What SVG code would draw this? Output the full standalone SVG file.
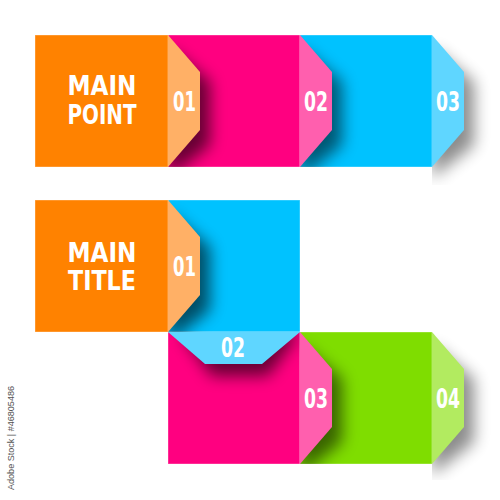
<svg xmlns="http://www.w3.org/2000/svg" width="500" height="500" viewBox="0 0 500 500">
<style>
.lbl{font-family:"DejaVu Sans Condensed","Liberation Sans Narrow","Liberation Sans",Arial,sans-serif;font-weight:bold;fill:#fff;text-anchor:middle;}
.big{font-size:26px;}
.num{font-size:26px;}
.sh{fill:#000;filter:url(#blur);}
.edge{stroke:#fff;stroke-opacity:0.35;stroke-width:1;}
</style>
<defs>
<filter id="blur" x="-50%" y="-50%" width="200%" height="200%"><feGaussianBlur stdDeviation="8"/></filter>
<clipPath id="cPink1"><rect x="168" y="35" width="132" height="132"/></clipPath>
<clipPath id="cBlue1"><rect x="300" y="35" width="132" height="132"/></clipPath>
<clipPath id="cRight1"><rect x="432" y="35" width="68" height="150"/></clipPath>
<clipPath id="cBlue2"><rect x="168" y="200" width="132" height="132"/></clipPath>
<clipPath id="cPink2"><rect x="168" y="332" width="132" height="132"/></clipPath>
<clipPath id="cGreen2"><rect x="300" y="332" width="132" height="132"/></clipPath>
<clipPath id="cRight2"><rect x="432" y="320" width="68" height="160"/></clipPath>
</defs>
<rect width="500" height="500" fill="#fff"/>

<g id="row1">
  <rect class="edge" x="168" y="35" width="132" height="132" fill="#FF0080"/>
  <rect class="edge" x="300" y="35" width="132" height="132" fill="#00C2FF"/>
  <rect class="edge" x="35" y="35" width="133" height="132" fill="#FF8200"/>
  <g clip-path="url(#cPink1)"><polygon class="sh" opacity="0.6" points="168,48 210,82 210,145 168,178"/></g>
  <g clip-path="url(#cBlue1)"><polygon class="sh" opacity="0.55" points="300,48 342,82 342,145 300,178"/></g>
  <g clip-path="url(#cRight1)"><polygon class="sh" opacity="0.45" points="432,48 474,82 474,145 432,178"/></g>
</g>

<g id="node-main-point">
  <text class="lbl big" x="102" y="95" textLength="69" lengthAdjust="spacingAndGlyphs">MAIN</text>
  <text class="lbl big" x="102" y="124" textLength="69" lengthAdjust="spacingAndGlyphs">POINT</text>
</g>
<g id="node-tab-01a">
  <polygon points="168,35 200,72 200,130 168,167" fill="#FFB066"/>
  <text class="lbl num" x="184.5" y="111" textLength="23" lengthAdjust="spacingAndGlyphs">01</text>
</g>
<g id="node-tab-02a">
  <polygon points="300,35 332,72 332,130 300,167" fill="#FF5FAE"/>
  <text class="lbl num" x="316" y="111" textLength="24" lengthAdjust="spacingAndGlyphs">02</text>
</g>
<g id="node-tab-03a">
  <polygon points="432,35 464,72 464,130 432,167" fill="#5FD6FF"/>
  <text class="lbl num" x="448" y="111" textLength="24" lengthAdjust="spacingAndGlyphs">03</text>
</g>

<g id="row2">
  <rect class="edge" x="168" y="200" width="132" height="132" fill="#00C2FF"/>
  <rect class="edge" x="168" y="332" width="132" height="132" fill="#FF0080"/>
  <rect class="edge" x="300" y="332" width="132" height="132" fill="#7FDD00"/>
  <rect class="edge" x="35" y="200" width="133" height="132" fill="#FF8200"/>
  <g clip-path="url(#cBlue2)"><polygon class="sh" opacity="0.6" points="168,213 210,247 210,310 168,343"/></g>
  <g clip-path="url(#cPink2)"><polygon class="sh" opacity="0.6" points="180,332 300,332 268,376 212,376"/></g>
  <g clip-path="url(#cGreen2)"><polygon class="sh" opacity="0.55" points="300,345 342,379 342,442 300,475"/></g>
  <g clip-path="url(#cRight2)"><polygon class="sh" opacity="0.45" points="432,345 474,379 474,442 432,475"/></g>
</g>

<g id="node-main-title">
  <text class="lbl big" x="102" y="262" textLength="69" lengthAdjust="spacingAndGlyphs">MAIN</text>
  <text class="lbl big" x="102" y="290" textLength="68" lengthAdjust="spacingAndGlyphs">TITLE</text>
</g>
<g id="node-tab-01b">
  <polygon points="168,200 200,237 200,295 168,332" fill="#FFB066"/>
  <text class="lbl num" x="184.5" y="276" textLength="23" lengthAdjust="spacingAndGlyphs">01</text>
</g>
<g id="node-tab-02b">
  <polygon points="168,332 300,332 262,364 205,364" fill="#5FD6FF"/>
  <text class="lbl num" x="233" y="357" textLength="24" lengthAdjust="spacingAndGlyphs">02</text>
</g>
<g id="node-tab-03b">
  <polygon points="300,332 332,369 332,427 300,464" fill="#FF5FAE"/>
  <text class="lbl num" x="316" y="408" textLength="24" lengthAdjust="spacingAndGlyphs">03</text>
</g>
<g id="node-tab-04b">
  <polygon points="432,332 464,369 464,427 432,464" fill="#B2EB60"/>
  <text class="lbl num" x="448" y="408" textLength="24" lengthAdjust="spacingAndGlyphs">04</text>
</g>

<g id="connectors"></g>

<text x="0" y="0" transform="translate(14,490) rotate(-90)" font-family="'Liberation Sans',Arial,sans-serif" font-size="9" fill="#555" textLength="104" lengthAdjust="spacingAndGlyphs">Adobe Stock | #46805486</text>
</svg>
